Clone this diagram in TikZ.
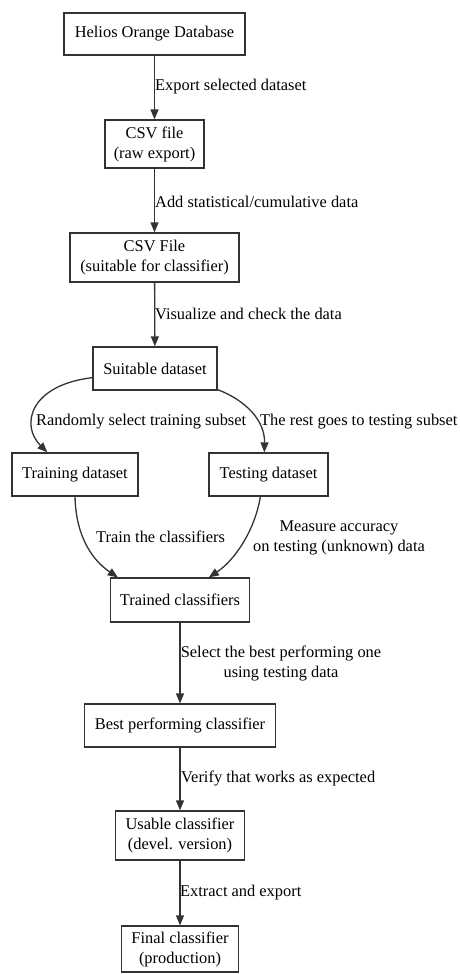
\documentclass[tikz,border=0pt]{standalone}
\usepackage{fontspec}
\setmainfont{Liberation Serif}
\usetikzlibrary{arrows.meta,calc}
\begin{document}
\begin{tikzpicture}[x=1pt,y=-1pt,
  font=\fontsize{16.4}{20}\selectfont,
  box/.style={draw=black!80,line width=1.3pt,rectangle,inner sep=0pt,align=center},
  lbl/.style={inner sep=0pt,anchor=west},
  lblc/.style={inner sep=0pt,align=center},
  conn/.style={draw=black!80,line width=1.3pt,-{Triangle[length=10pt,width=8pt]}}]
\fill[white] (0,0) rectangle (460,974);
\useasboundingbox (0,0) rectangle (460,974);
\node[box,minimum width=181pt,minimum height=42pt] (db) at (154.5,34) {Helios Orange Database};
\node[box,minimum width=99pt,minimum height=48pt] (raw) at (154.5,144) {CSV file\\(raw export)};
\node[box,minimum width=169pt,minimum height=49pt] (suitcsv) at (154.5,257.5) {CSV File\\(suitable for classifier)};
\node[box,minimum width=124pt,minimum height=43pt] (suit) at (155,368.5) {Suitable dataset};
\node[box,minimum width=126pt,minimum height=43pt] (train) at (75,474.5) {Training dataset};
\node[box,minimum width=119pt,minimum height=43pt] (test) at (268.5,474.5) {Testing dataset};
\node[box,minimum width=139pt,minimum height=44pt] (trained) at (180,600) {Trained classifiers};
\node[box,minimum width=191pt,minimum height=43pt] (best) at (180,725.5) {Best performing classifier};
\node[box,minimum width=129pt,minimum height=49pt] (usable) at (180,835.5) {Usable classifier\\(devel. version)};
\node[box,minimum width=117pt,minimum height=46pt] (final) at (180,949) {Final classifier\\(production)};

\draw[conn] (db) -- (raw);
\draw[conn] (raw) -- (suitcsv);
\draw[conn] (suitcsv) -- (suit);
\draw[conn] ($(suit.south west)+(0,-13)$) .. controls (30,385) and (20,425) .. ($(train.north west)+(36,0)$);
\draw[conn] ($(suit.south east)+(0,-1)$) .. controls (245,400) and (265,420) .. ($(test.north west)+(56,0)$);
\draw[conn] (train.south) .. controls (76,540) and (95,562) .. ($(trained.north west)+(8,0)$);
\draw[conn] ($(test.south west)+(52,0)$) .. controls (255,530) and (235,560) .. ($(trained.north west)+(99,0)$);
\draw[conn] (trained) -- (best);
\draw[conn] (best) -- (usable);
\draw[conn] (usable) -- (final);

\node[lbl] (l1) at (155,87) {Export selected dataset};
\node[lbl] (l2) at (155,202) {Add statistical/cumulative data};
\node[lbl] (l3) at (155,314) {Visualize and check the data};
\node[lbl] (l4) at (36,422) {Randomly select training subset};
\node[lbl] (l5) at (260,422) {The rest goes to testing subset};
\node[lbl] (l6) at (96,537) {Train the classifiers};
\node[lblc] (l7) at (339,538) {Measure accuracy\\on testing (unknown) data};
\node[lblc] (l8) at (281,663) {Select the best performing one\\using testing data};
\node[lbl] (l9) at (181,778) {Verify that works as expected};
\node[lbl] (l10) at (180,893) {Extract and export};
\end{tikzpicture}
\end{document}
